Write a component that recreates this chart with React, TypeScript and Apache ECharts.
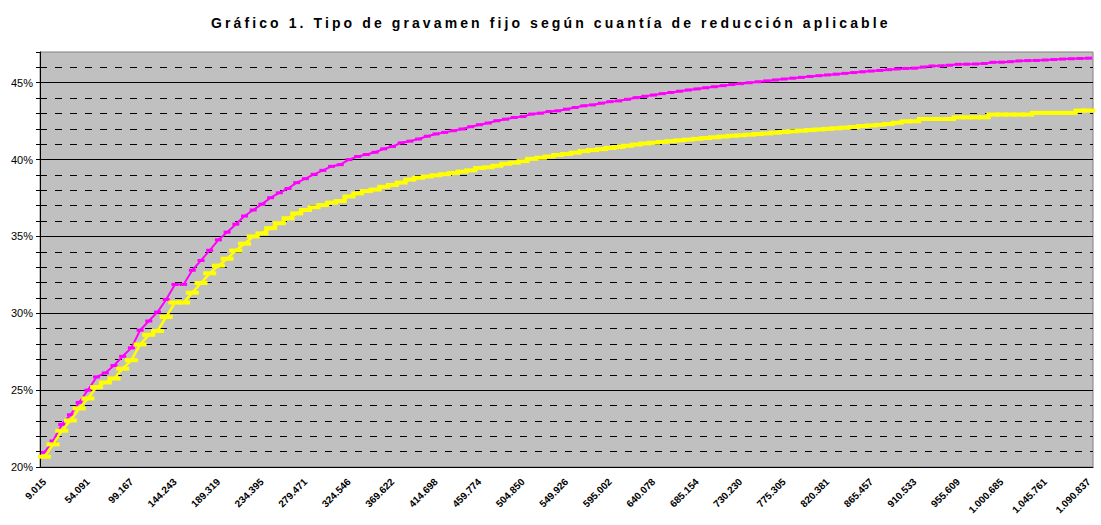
import React, { useEffect, useRef } from "react";
import * as echarts from "echarts";

const titleText = "Gráfico 1. Tipo de gravamen fijo según cuantía de reducción aplicable";

// Tick labels shown every 5th category (reduction amount, euros)
const tickLabels = [
  "9.015", "54.091", "99.167", "144.243", "189.319", "234.395", "279.471", "324.546",
  "369.622", "414.698", "459.774", "504.850", "549.926", "595.002", "640.078", "685.154",
  "730.230", "775.305", "820.381", "865.457", "910.533", "955.609", "1.000.685",
  "1.045.761", "1.090.837",
];

// Upper series (magenta), percent
const serieA = [
  20.95, 21.69, 22.77, 23.40, 24.20, 25.00, 25.86, 26.12, 26.60, 27.20,
  27.75, 28.90, 29.50, 30.08, 30.90, 31.88, 31.88, 32.80, 33.44, 34.10,
  34.78, 35.28, 35.80, 36.33, 36.72, 37.10, 37.52, 37.84, 38.12, 38.50,
  38.76, 39.04, 39.30, 39.56, 39.67, 40.00, 40.20, 40.33, 40.48, 40.70,
  40.85, 41.09, 41.20, 41.34, 41.52, 41.67, 41.77, 41.88, 41.99, 42.14,
  42.27, 42.38, 42.53, 42.63, 42.74, 42.80, 42.96, 43.02, 43.13, 43.17,
  43.28, 43.39, 43.50, 43.56, 43.67, 43.77, 43.82, 43.92, 44.03, 44.12,
  44.20, 44.29, 44.37, 44.45, 44.53, 44.60, 44.67, 44.74, 44.81, 44.88,
  44.94, 45.00, 45.06, 45.12, 45.18, 45.24, 45.30, 45.35, 45.41, 45.46,
  45.51, 45.56, 45.61, 45.66, 45.71, 45.76, 45.80, 45.85, 45.90, 45.93,
  45.95, 46.02, 46.09, 46.10, 46.14, 46.20, 46.21, 46.22, 46.25, 46.33,
  46.34, 46.37, 46.42, 46.44, 46.45, 46.48, 46.51, 46.54, 46.56, 46.58,
  46.60,
];

// Lower series (yellow), percent
const serieB = [
  20.67, 21.47, 22.36, 23.03, 23.81, 24.46, 25.20, 25.50, 25.76, 26.40,
  26.95, 27.97, 28.60, 28.85, 29.76, 30.70, 30.70, 31.34, 31.97, 32.60,
  33.10, 33.55, 34.08, 34.53, 35.00, 35.20, 35.54, 35.86, 36.18, 36.50,
  36.72, 36.90, 37.04, 37.20, 37.30, 37.60, 37.80, 37.95, 38.05, 38.23,
  38.35, 38.50, 38.70, 38.82, 38.90, 38.98, 39.05, 39.13, 39.22, 39.30,
  39.45, 39.50, 39.60, 39.73, 39.80, 39.90, 40.05, 40.12, 40.20, 40.30,
  40.36, 40.45, 40.55, 40.62, 40.68, 40.76, 40.82, 40.90, 40.98, 41.05,
  41.10, 41.15, 41.20, 41.25, 41.30, 41.35, 41.40, 41.45, 41.50, 41.55,
  41.58, 41.62, 41.66, 41.70, 41.75, 41.80, 41.84, 41.88, 41.92, 41.96,
  42.00, 42.04, 42.08, 42.12, 42.18, 42.22, 42.26, 42.32, 42.40, 42.49,
  42.49, 42.64, 42.64, 42.64, 42.64, 42.75, 42.75, 42.75, 42.75, 42.93,
  42.93, 42.93, 42.93, 42.93, 43.04, 43.04, 43.04, 43.04, 43.04, 43.19,
  43.19,
];

const yMin = 20;
const yMax = 47;

const categories = serieA.map((_, i) => (i % 5 === 0 ? tickLabels[i / 5] : "c" + i));

export default function App() {
  const ref = useRef<HTMLDivElement>(null);
  useEffect(() => {
    if (!ref.current) return;
    const chart = echarts.init(ref.current, undefined, { renderer: "svg" });
    const spaceTitle = () => {
      const dom = chart.getDom();
      if (!dom) return;
      dom.querySelectorAll("text").forEach((t) => {
        if (t.textContent === titleText) {
          (t as SVGTextElement).style.letterSpacing = "3.1px";
        }
      });
    };
    chart.on("finished", spaceTitle);
    chart.setOption({
      animation: false,
      backgroundColor: "#ffffff",
      title: {
        text: titleText,
        left: 206,
        top: 11,
        textStyle: {
          fontFamily: "Arial",
          fontSize: 14,
          fontWeight: "bold",
          color: "#000",
        },
      },
      grid: {
        left: 40,
        right: 8,
        top: 52,
        bottom: 58,
        show: true,
        backgroundColor: "#C0C0C0",
        borderColor: "#808080",
        borderWidth: 1,
      },
      xAxis: {
        type: "category",
        data: categories,
        boundaryGap: true,
        axisLine: { lineStyle: { color: "#000", width: 1 } },
        axisTick: { interval: 0, length: 4, lineStyle: { color: "#000" } },
        axisLabel: {
          interval: 4,
          rotate: 45,
          fontSize: 10,
          fontWeight: "bold",
          fontFamily: "Arial",
          color: "#000",
          margin: 13,
        },
        splitLine: { show: false },
      },
      yAxis: [
        {
          type: "value",
          min: yMin,
          max: yMax,
          interval: 5,
          position: "left",
          axisLine: { show: true, lineStyle: { color: "#000", width: 1 } },
          axisTick: { show: true, length: 4, lineStyle: { color: "#000" } },
          axisLabel: {
            formatter: (v: number) => (v % 5 === 0 ? v + "%" : ""),
            fontSize: 11,
            fontFamily: "Arial",
            color: "#000",
            margin: 7,
          },
          splitLine: {
            show: true,
            showMinLine: false,
            showMaxLine: false,
            lineStyle: { color: "#000", width: 1 },
          },
        },
        {
          type: "value",
          min: yMin,
          max: yMax,
          interval: 1,
          position: "left",
          axisLine: { show: false },
          axisTick: { show: true, length: 4, lineStyle: { color: "#000" } },
          axisLabel: { show: false },
          splitLine: {
            show: true,
            showMinLine: false,
            showMaxLine: false,
            lineStyle: { color: "#000", width: 1, type: [7, 8] },
          },
        },
      ],
      series: [
        {
          name: "Serie A",
          type: "line",
          data: serieA,
          yAxisIndex: 0,
          symbol: "rect",
          symbolSize: [7, 3],
          showSymbol: true,
          showAllSymbol: true,
          lineStyle: { color: "#FF00FF", width: 2 },
          itemStyle: { color: "#FF00FF" },
          z: 3,
        },
        {
          name: "Serie B",
          type: "line",
          data: serieB,
          yAxisIndex: 0,
          symbol: "rect",
          symbolSize: [13, 4],
          showSymbol: true,
          showAllSymbol: true,
          lineStyle: { color: "#FFFF00", width: 2.5 },
          itemStyle: { color: "#FFFF00" },
          z: 4,
        },
      ],
    });
    spaceTitle();
    const raf = requestAnimationFrame(spaceTitle);
    return () => {
      cancelAnimationFrame(raf);
      chart.dispose();
    };
  }, []);
  return (
    <div
      ref={ref}
      style={{ position: "fixed", left: 0, top: 0, width: 1101, height: 525 }}
    />
  );
}
